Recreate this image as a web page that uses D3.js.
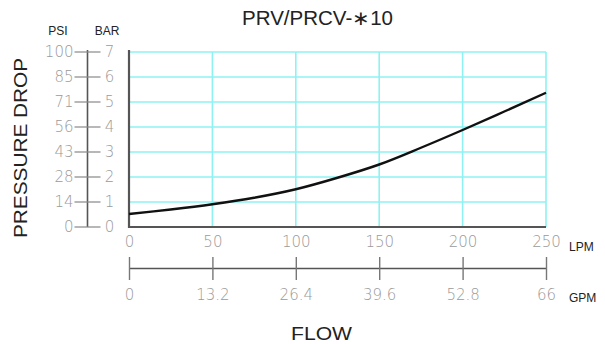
<!DOCTYPE html>
<html>
<head>
<meta charset="utf-8">
<script src="https://cdn.jsdelivr.net/npm/d3@7"></script>
<style>
  html, body { margin: 0; padding: 0; background: #fff; }
  svg { display: block; }
  .tick-label { font-family: "DejaVu Sans", sans-serif; font-weight: 200; fill: #9a9a9a; }
  .unit { font-family: "Liberation Sans", Arial, sans-serif; fill: #222; }
</style>
</head>
<body>
<svg id="chart" width="605" height="344"></svg>
<script>
// Flow axis (LPM) and its GPM equivalents
const lpmTicks = [0, 50, 100, 150, 200, 250];
const gpmTicks = [0, 13.2, 26.4, 39.6, 52.8, 66];
// Pressure axis (BAR) and its PSI equivalents
const barTicks = [0, 1, 2, 3, 4, 5, 6, 7];
const psiLabels = ["0", "14", "28", "43", "56", "71", "85", "100"];
// Pressure drop curve: flow in LPM, pressure drop in BAR
const flowLpm = [0, 25, 50, 75, 100, 125, 150, 175, 200, 225, 250];
const dropBar = [0.52, 0.70, 0.91, 1.17, 1.51, 1.97, 2.50, 3.17, 3.88, 4.62, 5.37];

const svg = d3.select("#chart");

const x = d3.scaleLinear().domain([0, 250]).range([129, 546]);
const xg = d3.scaleLinear().domain([0, 66]).range([129, 546]);
const y = d3.scaleLinear().domain([0, 7]).range([227, 52]);

// grid
const grid = svg.append("g").attr("stroke", "#8ef2f2").attr("stroke-width", 1.6);
grid.selectAll("line.h").data(barTicks.slice(1)).join("line")
  .attr("x1", x(0)).attr("x2", x(250))
  .attr("y1", d => y(d)).attr("y2", d => y(d));
grid.selectAll("line.v").data(lpmTicks.slice(1)).join("line")
  .attr("y1", y(0)).attr("y2", y(7))
  .attr("x1", d => x(d)).attr("x2", d => x(d));

// plot frame: left and bottom
svg.append("line").attr("x1", x(0)).attr("x2", x(0)).attr("y1", y(7) - 2).attr("y2", y(0) + 1)
  .attr("stroke", "#555").attr("stroke-width", 2.2);
svg.append("line").attr("x1", x(0) - 1).attr("x2", x(250)).attr("y1", y(0)).attr("y2", y(0))
  .attr("stroke", "#555").attr("stroke-width", 2.2);

// curve
const line = d3.line().x((d, i) => x(flowLpm[i])).y(d => y(d)).curve(d3.curveCatmullRom.alpha(0.5));
svg.append("path").datum(dropBar).attr("d", line)
  .attr("fill", "none").attr("stroke", "#111").attr("stroke-width", 2.4);

// LPM tick labels
const lpmAxis = d3.axisBottom(x).tickValues(lpmTicks).tickSize(0).tickPadding(0).tickFormat(d3.format("d"));
const gL = svg.append("g").attr("transform", "translate(0,236)").call(lpmAxis);
gL.select(".domain").remove();
gL.selectAll("text").attr("class", "tick-label").attr("font-size", 15).attr("dy", "0.75em");

// GPM axis
const gpmAxis = d3.axisBottom(xg).tickValues(gpmTicks).tickSize(0).tickFormat(d => String(d));
const gG = svg.append("g").attr("transform", "translate(0,268)").call(gpmAxis);
gG.select(".domain").attr("stroke", "#555").attr("stroke-width", 1.6);
gG.selectAll(".tick line").attr("y1", -11).attr("y2", 12).attr("stroke", "#777").attr("stroke-width", 1.4);
gG.selectAll("text").attr("class", "tick-label").attr("font-size", 15).attr("y", 21).attr("dy", "0.75em");

// dual pressure axis (PSI left, BAR right of spine)
const spineX = 87.5;
const barAxis = d3.axisRight(y).tickValues(barTicks).tickSize(0).tickPadding(0).tickFormat(d3.format("d"));
const gB = svg.append("g").attr("transform", `translate(${spineX + 16},0)`).call(barAxis);
gB.select(".domain").remove();
gB.selectAll("text").attr("class", "tick-label").attr("font-size", 15).attr("x", 6).attr("text-anchor", "middle");

const psiAxis = d3.axisLeft(y).tickValues(barTicks).tickSize(0).tickPadding(0).tickFormat((d, i) => psiLabels[i]);
const gP = svg.append("g").attr("transform", `translate(${spineX - 14},0)`).call(psiAxis);
gP.select(".domain").remove();
gP.selectAll("text").attr("class", "tick-label").attr("font-size", 15);

svg.append("line").attr("x1", spineX).attr("x2", spineX).attr("y1", y(7) - 2).attr("y2", y(0))
  .attr("stroke", "#555").attr("stroke-width", 1.6);
svg.append("g").selectAll("line").data(barTicks).join("line")
  .attr("x1", spineX - 13).attr("x2", spineX + 13)
  .attr("y1", d => y(d)).attr("y2", d => y(d))
  .attr("stroke", "#888").attr("stroke-width", 1.2);

// unit labels
svg.append("text").attr("class", "unit").attr("x", 58).attr("y", 35).attr("text-anchor", "middle").attr("font-size", 12).text("PSI");
svg.append("text").attr("class", "unit").attr("x", 107).attr("y", 35).attr("text-anchor", "middle").attr("font-size", 12).text("BAR");
svg.append("text").attr("class", "unit").attr("x", 569).attr("y", 251).attr("font-size", 12).text("LPM");
svg.append("text").attr("class", "unit").attr("x", 569).attr("y", 302).attr("font-size", 12).text("GPM");

// titles
svg.append("text").attr("class", "unit").attr("x", 242).attr("y", 25)
  .attr("font-size", 19.5).attr("textLength", 151).attr("lengthAdjust", "spacingAndGlyphs")
  .text("PRV/PRCV-\u221710");
svg.append("text").attr("class", "unit").attr("x", 291).attr("y", 340)
  .attr("font-size", 18.5).attr("textLength", 61).attr("lengthAdjust", "spacingAndGlyphs")
  .text("FLOW");
svg.append("text").attr("class", "unit")
  .attr("transform", "translate(27,238) rotate(-90)")
  .attr("font-size", 17.5).attr("textLength", 180).attr("lengthAdjust", "spacingAndGlyphs")
  .text("PRESSURE DROP");
</script>
</body>
</html>
